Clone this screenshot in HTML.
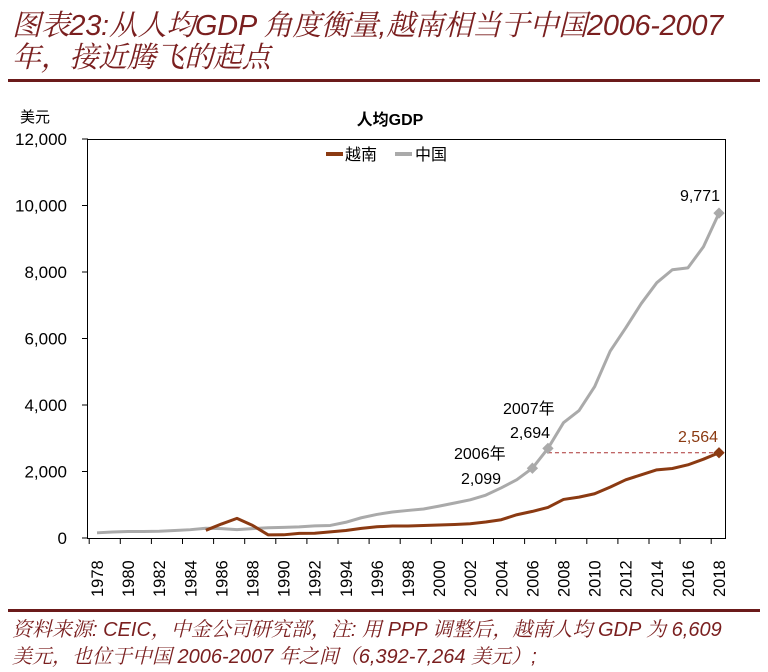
<!DOCTYPE html>
<html><head><meta charset="utf-8"><style>
body{margin:0;width:768px;height:672px;background:#fff;overflow:hidden;font-family:"Liberation Sans","Noto Sans CJK SC",sans-serif}
.t{position:absolute;left:12px;color:#7a1f1f;font-style:italic;font-size:29px;line-height:32px;letter-spacing:-0.3px;font-family:"Liberation Sans","Noto Serif CJK SC",serif;white-space:nowrap}
.n{position:absolute;left:12px;color:#7a1f1f;font-style:italic;font-size:20px;line-height:26px;font-family:"Liberation Sans","Noto Serif CJK SC",serif;white-space:nowrap}
</style></head><body>
<div class="t" style="top:10px">图表23:从人均GDP 角度衡量,越南相当于中国2006-2007</div>
<div class="t" style="top:42px">年，接近腾飞的起点</div>
<div style="position:absolute;left:8px;top:79px;width:752px;height:3px;background:#6b1a1a"></div>
<svg id="s" style="position:absolute;left:0;top:0" width="768" height="672" font-family="Liberation Sans, Noto Sans CJK SC, sans-serif">
<text x="20" y="122" font-size="15">美元</text>
<text x="390" y="125" font-size="16" font-weight="bold" text-anchor="middle">人均GDP</text>
<rect x="87.5" y="139.5" width="638" height="399" fill="none" stroke="#000" stroke-width="1"/>
<line x1="326" y1="154" x2="343" y2="154" stroke="#8b3a12" stroke-width="4"/>
<text x="345" y="160" font-size="16">越南</text>
<line x1="395" y1="154" x2="412" y2="154" stroke="#aaa" stroke-width="4"/>
<text x="415" y="160" font-size="16">中国</text>
<g id="g"></g>
<text x="720" y="201" font-size="16" text-anchor="end">9,771</text>
<text x="503" y="414" font-size="16">2007年</text>
<text x="510" y="438" font-size="16">2,694</text>
<text x="454" y="459" font-size="16">2006年</text>
<text x="461" y="484" font-size="16">2,099</text>
<text x="718" y="442" font-size="16" fill="#8b3a12" text-anchor="end">2,564</text>
</svg>
<div style="position:absolute;left:8px;top:609px;width:752px;height:3px;background:#6b1a1a"></div>
<div class="n" style="top:617px">资料来源: CEIC，中金公司研究部，注: 用 PPP 调整后，越南人均 GDP 为 6,609</div>
<div class="n" style="top:644px">美元，也位于中国 2006-2007 年之间（6,392-7,264 美元）;</div>
<script>
var g=document.getElementById('g'),h='';
function X(y){return 97+(y-1978)*15.55}
function Y(v){return 538-v*399/12000}
for(var i=0;i<=6;i++){var v=i*2000,yy=Y(v);h+='<line x1="82" x2="88" y1="'+yy+'" y2="'+yy+'" stroke="#000"/>';
h+='<text x="67" y="'+(yy+6)+'" font-size="17" text-anchor="end">'+(v?v.toLocaleString('en-US'):'0')+'</text>';}
for(var y=1978;y<=2018;y+=2){var bx=X(y)-7.8;h+='<line x1="'+bx+'" x2="'+bx+'" y1="538" y2="544" stroke="#000"/>';
h+='<text transform="translate('+(X(y)+6)+',597) rotate(-90)" font-size="16.5">'+y+'</text>';}
var cn={1978:156,1979:180,1980:195,1981:197,1982:203,1983:225,1984:250,1985:294,1986:282,1987:251,1988:283,1989:310,1990:318,1991:333,1992:366,1993:377,1994:473,1995:609,1996:709,1997:781,1998:829,1999:873,2000:959,2001:1053,2002:1149,2003:1289,2004:1509,2005:1753,2006:2099,2007:2694,2008:3468,2009:3832,2010:4550,2011:5618,2012:6317,2013:7051,2014:7679,2015:8067,2016:8123,2017:8760,2018:9771};
var vn={1985:231,1986:420,1987:590,1988:380,1989:95,1990:96,1991:140,1992:142,1993:185,1994:225,1995:290,1996:337,1997:361,1998:361,1999:375,2000:390,2001:405,2002:430,2003:480,2004:550,2005:700,2006:800,2007:920,2008:1160,2009:1230,2010:1330,2011:1530,2012:1750,2013:1900,2014:2050,2015:2090,2016:2200,2017:2370,2018:2564};
function pl(d,c){var p=[];for(var k in d)p.push(X(+k)+','+Y(d[k]));return '<polyline points="'+p.join(' ')+'" fill="none" stroke="'+c+'" stroke-width="3" stroke-linejoin="round"/>'}
h+=pl(cn,'#aaa')+pl(vn,'#8b3a12');
h+='<line x1="'+X(2007)+'" x2="'+X(2018)+'" y1="'+Y(2564)+'" y2="'+Y(2564)+'" stroke="#a33" stroke-dasharray="4,3"/>';
function dm(x,y,c){return '<rect x="'+(x-4)+'" y="'+(y-4)+'" width="8" height="8" fill="'+c+'" transform="rotate(45 '+x+' '+y+')"/>'}
h+=dm(X(2006),Y(2099),'#aaa')+dm(X(2007),Y(2694),'#aaa')+dm(X(2018),Y(9771),'#aaa')+dm(X(2018),Y(2564),'#8b3a12');
g.innerHTML=h;
</script>
</body></html>
